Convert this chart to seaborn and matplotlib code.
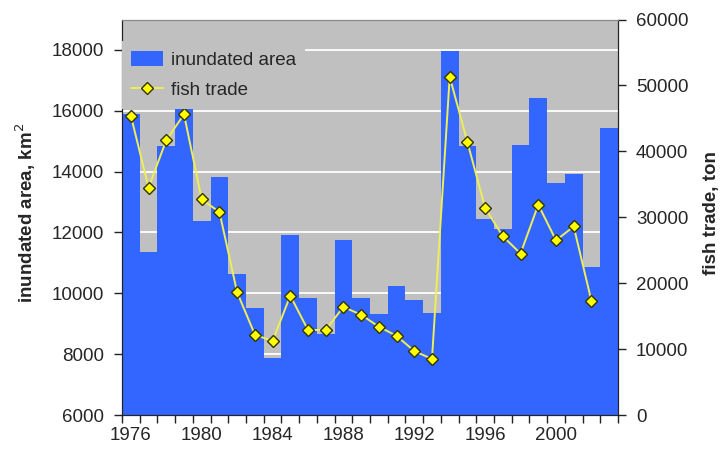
import numpy as np
import matplotlib
matplotlib.use("Agg")
import matplotlib.pyplot as plt
import seaborn as sns

# data
years = list(range(1976, 2004))
area = [15900, 11350, 14850, 16150, 12380, 13820, 10630, 9530, 7880, 11930,
        9830, 8670, 11760, 9830, 9310, 10250, 9780, 9340, 17980, 14850,
        12450, 12100, 14870, 16430, 13640, 13930, 10870, 15440]
fish_years = list(range(1976, 2003))
fish = [45400, 34500, 41700, 45600, 32700, 30800, 18600, 12200, 11200, 18100,
        12900, 12900, 16400, 15200, 13400, 12000, 9700, 8500, 51300, 41400,
        31400, 27100, 24500, 31900, 26500, 28600, 17300]
tick_years = [1976, 1980, 1984, 1988, 1992, 1996, 2000]

sns.set_style("ticks")
plt.rcParams['font.family'] = ['Liberation Sans', 'DejaVu Sans']
fs = 13.5

fig = plt.figure(figsize=(7.23, 4.54), dpi=100)
ax1 = fig.add_axes([122/723, 39/454, 496/723, 395.5/454])
ax1.set_facecolor('#C0C0C0')

# inundated area bars (left axis)
sns.barplot(x=years, y=area, native_scale=True, width=1, color='#3366FF',
            saturation=1, edgecolor='none', linewidth=0, ax=ax1,
            label='inundated area')
ax1.set_ylim(6000, 19000)
ax1.set_xlim(1975.5, 2003.5)
ax1.set_yticks(np.arange(6000, 18001, 2000))
ax1.yaxis.grid(True, color='white', lw=1.3)
ax1.set_axisbelow(True)

ax1.set_xticks(tick_years)
ax1.set_xticklabels([str(y) for y in tick_years])
ax1.set_xticks(np.arange(1975.5, 2004, 1), minor=True)
ax1.tick_params(axis='x', which='major', length=0, pad=9, labelsize=fs)
ax1.tick_params(axis='x', which='minor', length=6, width=1, color='#222222')
ax1.tick_params(axis='y', length=6, width=1, pad=7, labelsize=fs,
                color='#222222')
ax1.set_ylabel('inundated area, km$^2$', fontsize=fs, fontweight='bold')
ax1.yaxis.set_label_coords(-0.17, 0.51)

# fish trade line (right axis)
ax2 = ax1.twinx()
sns.lineplot(x=fish_years, y=fish, ax=ax2, color='#EEEE55', lw=1.4,
             marker='D', markersize=6, markerfacecolor='#FFFF00',
             markeredgecolor='#333300', markeredgewidth=1,
             label='fish trade')
ax2.set_ylim(0, 60000)
ax2.set_yticks(np.arange(0, 60001, 10000))
ax2.tick_params(axis='y', length=6, width=1, pad=7, labelsize=fs,
                color='#222222')
ax2.set_ylabel('fish trade, ton', fontsize=fs, fontweight='bold')
ax2.yaxis.set_label_coords(1.172, 0.51)
ax2.set_xlim(1975.5, 2003.5)

for ax in (ax1, ax2):
    ax.spines['top'].set_color('#888888')
    ax.spines['left'].set_color('#222222')
    ax.spines['right'].set_color('#222222')
    ax.spines['bottom'].set_color('#222222')

for ax in (ax1, ax2):
    if ax.get_legend() is not None:
        ax.get_legend().remove()
h1, l1 = ax1.get_legend_handles_labels()
h2, l2 = ax2.get_legend_handles_labels()
leg = ax2.legend(h1 + h2, l1 + l2, loc='upper left',
                 bbox_to_anchor=(0.0, 0.945), fontsize=fs, frameon=True,
                 facecolor='#C0C0C0', edgecolor='none', framealpha=1,
                 fancybox=False, handlelength=1.7, handleheight=0.9,
                 borderaxespad=0, borderpad=0.5, labelspacing=0.65,
                 handletextpad=0.4)

fig.savefig('out.png', dpi=100)
